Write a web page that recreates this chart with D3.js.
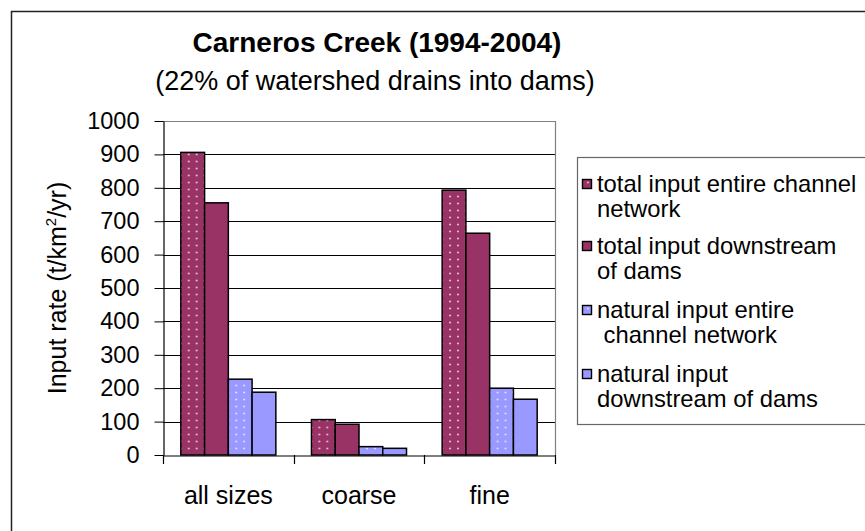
<!DOCTYPE html>
<html>
<head>
<meta charset="utf-8">
<script src="https://cdn.jsdelivr.net/npm/d3@7"></script>
<style>
  html, body { margin: 0; padding: 0; background: #fff; }
  svg { display: block; font-family: Arial, "Liberation Sans", sans-serif; }
  text { white-space: pre; }
</style>
</head>
<body>
<svg id="chart" width="865" height="531"></svg>
<script>
// ---- data ----
const categories = ["all sizes", "coarse", "fine"];
const seriesNames = [
  "total input entire channel network",
  "total input downstream of dams",
  "natural input entire channel network",
  "natural input downstream of dams"
];
const legendLines = [
  ["total input entire channel", "network"],
  ["total input downstream", "of dams"],
  ["natural input entire", " channel network"],
  ["natural input", "downstream of dams"]
];
const totalEntire      = [906, 106, 793];
const totalDownstream  = [755, 92, 664];
const naturalEntire    = [227, 25, 200];
const naturalDownstream= [188, 20, 167];
const yTicks = [0, 100, 200, 300, 400, 500, 600, 700, 800, 900, 1000];
const titleText = "Carneros Creek (1994-2004)";
const subtitleText = "(22% of watershed drains into dams)";

const seriesValues = [totalEntire, totalDownstream, naturalEntire, naturalDownstream];
const seriesColor = ["#993366", "#993366", "#9999FF", "#9999FF"];
const seriesDotted = [true, false, true, false];

// ---- layout ----
const svg = d3.select("#chart");
const plot = { left: 163, right: 555, top: 121, bottom: 455 };

const x0 = d3.scaleBand().domain(categories).range([plot.left, plot.right]).padding(0);
const x1 = d3.scaleBand().domain(d3.range(seriesNames.length)).range([0, x0.bandwidth()])
  .paddingInner(0).paddingOuter(0.75);
const y = d3.scaleLinear().domain([0, 1000]).range([plot.bottom, plot.top]);
const bw = x1.bandwidth();

const defs = svg.append("defs");
function dotPattern(id, bg, x0pos, op) {
  const pw = bw / 3, ph = 7;
  const p = defs.append("pattern").attr("id", id)
    .attr("patternUnits", "userSpaceOnUse").attr("width", pw).attr("height", ph)
    .attr("patternTransform", `translate(${x0pos + pw / 2},${plot.bottom - 3})`);
  p.append("rect").attr("width", pw).attr("height", ph).attr("fill", bg);
  p.append("rect").attr("x", pw / 2 - 0.8).attr("y", ph / 2 - 0.8).attr("width", 1.6).attr("height", 1.6)
    .attr("fill", "#fff").attr("opacity", op);
  return `url(#${id})`;
}
const legendFill = seriesColor.map((c, i) => seriesDotted[i] ? dotPattern(`lgp${i}`, c, 580, 0.8) : c);

// outer chart border
svg.append("rect").attr("x", 11.5).attr("y", 11.5).attr("width", 900).attr("height", 600)
  .attr("fill", "none").attr("stroke", "#222").attr("stroke-width", 1.5);

// gridlines
svg.append("g").selectAll("line").data(yTicks.filter(d => d > 0 && d < 1000)).join("line")
  .attr("x1", plot.left).attr("x2", plot.right)
  .attr("y1", d => Math.round(y(d)) + 0.5).attr("y2", d => Math.round(y(d)) + 0.5)
  .attr("stroke", "#000").attr("stroke-width", 1);

// plot area border (top & right gray)
svg.append("path")
  .attr("d", `M${plot.left},${plot.top + 0.5}H${plot.right + 0.5}V${plot.bottom}`)
  .attr("fill", "none").attr("stroke", "#808080").attr("stroke-width", 1.2);

// bars
const groups = svg.append("g").selectAll("g").data(seriesNames).join("g");
groups.each(function(name, si) {
  d3.select(this).selectAll("rect").data(seriesValues[si]).join("rect")
    .attr("x", (d, ci) => x0(categories[ci]) + x1(si))
    .attr("y", d => y(d))
    .attr("width", bw)
    .attr("height", d => y(0) - y(d))
    .attr("fill", (d, ci) => seriesDotted[si]
      ? dotPattern(`p${si}_${ci}`, seriesColor[si], x0(categories[ci]) + x1(si), 0.85)
      : seriesColor[si])
    .attr("stroke", "#000").attr("stroke-width", 1.5);
});

// y axis
const yAxis = d3.axisLeft(y).tickValues(yTicks).tickFormat(d3.format("d"))
  .tickSize(9).tickSizeOuter(0).tickPadding(15);
const gy = svg.append("g").attr("transform", `translate(${plot.left + 0.5},0)`).call(yAxis);
gy.select(".domain").attr("stroke", "#000").attr("stroke-width", 1.2);
gy.selectAll(".tick line").attr("stroke", "#000");
gy.selectAll(".tick text").attr("font-size", 23.5).attr("fill", "#000")
  .attr("font-family", "Arial, 'Liberation Sans', sans-serif");

// x axis
const xAxis = d3.axisBottom(x0).tickSize(0).tickPadding(0);
const gx = svg.append("g").attr("transform", `translate(0,${plot.bottom + 0.5})`).call(xAxis);
gx.select(".domain").attr("stroke", "#000").attr("stroke-width", 1.2);
gx.selectAll(".tick text").attr("font-size", 25).attr("fill", "#000")
  .attr("font-family", "Arial, 'Liberation Sans', sans-serif")
  .attr("dy", 0).attr("y", 48);
const bounds = categories.map(c => x0(c)).concat([plot.right]);
svg.append("g").selectAll("line").data(bounds).join("line")
  .attr("x1", d => Math.round(d) + 0.5).attr("x2", d => Math.round(d) + 0.5)
  .attr("y1", plot.bottom).attr("y2", plot.bottom + 9)
  .attr("stroke", "#000").attr("stroke-width", 1.2);

// y axis label
const yl = svg.append("text")
  .attr("transform", `translate(66,${(plot.top + plot.bottom) / 2}) rotate(-90)`)
  .attr("text-anchor", "middle").attr("font-size", 25).attr("fill", "#000");
yl.append("tspan").text("Input rate (t/km");
yl.append("tspan").attr("font-size", 15).attr("dy", -10).text("2");
yl.append("tspan").attr("dy", 10).text("/yr)");

// titles
svg.append("text").attr("x", 377).attr("y", 52).attr("text-anchor", "middle")
  .attr("font-size", 28).attr("font-weight", "bold").attr("fill", "#000").text(titleText);
svg.append("text").attr("x", 375).attr("y", 90).attr("text-anchor", "middle")
  .attr("font-size", 27).attr("fill", "#000").text(subtitleText);

// legend
const lg = svg.append("g");
lg.append("rect").attr("x", 577.5).attr("y", 157.5).attr("width", 400).attr("height", 267)
  .attr("fill", "#fff").attr("stroke", "#666").attr("stroke-width", 1.2);
const itemY = [192, 254, 318, 382];
legendLines.forEach((lines, i) => {
  lg.append("rect").attr("x", 582.5).attr("y", itemY[i] - 12.5).attr("width", 9).attr("height", 9)
    .attr("fill", legendFill[i]).attr("stroke", "#000").attr("stroke-width", 1.4);
  lines.forEach((ln, j) => {
    lg.append("text").attr("x", 597).attr("y", itemY[i] + j * 25)
      .attr("font-size", 23.8).attr("fill", "#000").text(ln);
  });
});
</script>
</body>
</html>
